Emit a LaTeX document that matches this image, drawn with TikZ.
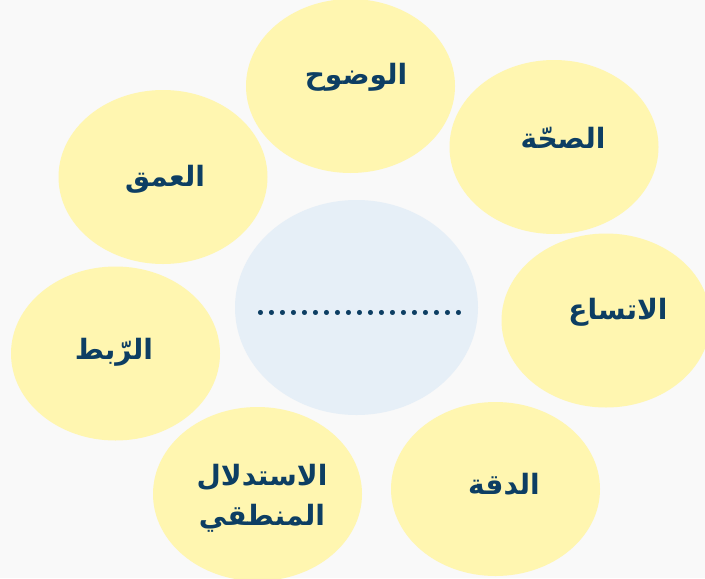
\documentclass[tikz,border=0pt]{standalone}
\usepackage{fontspec}
\usetikzlibrary{shapes.geometric}
\TeXXeTstate=1
\newfontfamily\arabicfont[Script=Arabic]{DejaVu Sans}
\definecolor{bgc}{HTML}{F9F9F9}
\definecolor{yel}{HTML}{FFF6B0}
\definecolor{blu}{HTML}{E6EFF7}
\definecolor{navy}{HTML}{0D3E63}
\tikzset{
  bubble/.style={ellipse, fill=yel, draw=none, inner sep=0pt,
    minimum width=156.75pt, minimum height=130.5pt},
  core/.style={ellipse, fill=blu, draw=none, inner sep=0pt,
    minimum width=182.25pt, minimum height=161.25pt},
  lbl/.style={text=navy, inner sep=0pt, align=center,
    font=\arabicfont\bfseries\fontsize{21}{30}\selectfont},
  dots/.style={text=navy, inner sep=0pt, font=\bfseries\fontsize{26.3}{30}\selectfont}
}
\begin{document}
\begin{tikzpicture}[x=0.75pt,y=-0.75pt]
\fill[bgc] (0,0) rectangle (705,578);
\useasboundingbox (0,0) rectangle (705,578);
\clip (0,0) rectangle (705,578);
\node[bubble] (b1) at (350.5,86) {};
\node[bubble] (b2) at (554,147) {};
\node[bubble] (b3) at (163,177) {};
\node[bubble] (b4) at (606,320.5) {};
\node[bubble] (b5) at (115.5,353.5) {};
\node[bubble] (b6) at (257.5,494) {};
\node[bubble] (b7) at (495.5,489) {};
\node[core] (c) at (356.5,307.5) {};
\node[lbl] (t1) at (356,77) {\beginR الوضوح\endR};
\node[lbl] (t2) at (563,138) {\beginR الصحّة\endR};
\node[lbl] (t3) at (165,179) {\beginR العمق\endR};
\node[lbl] (t4) at (618,312) {\beginR الاتساع\endR};
\node[lbl] (t5) at (114,352) {\beginR الرّبط\endR};
\node[lbl] (t6) at (262,498) {\beginR الاستدلال\endR\\\beginR المنطقي\endR};
\node[lbl] (t7) at (504,484) {\beginR الدقة\endR};
\node[dots, anchor=base] (d) at (360,315) {...................};
\end{tikzpicture}
\end{document}
